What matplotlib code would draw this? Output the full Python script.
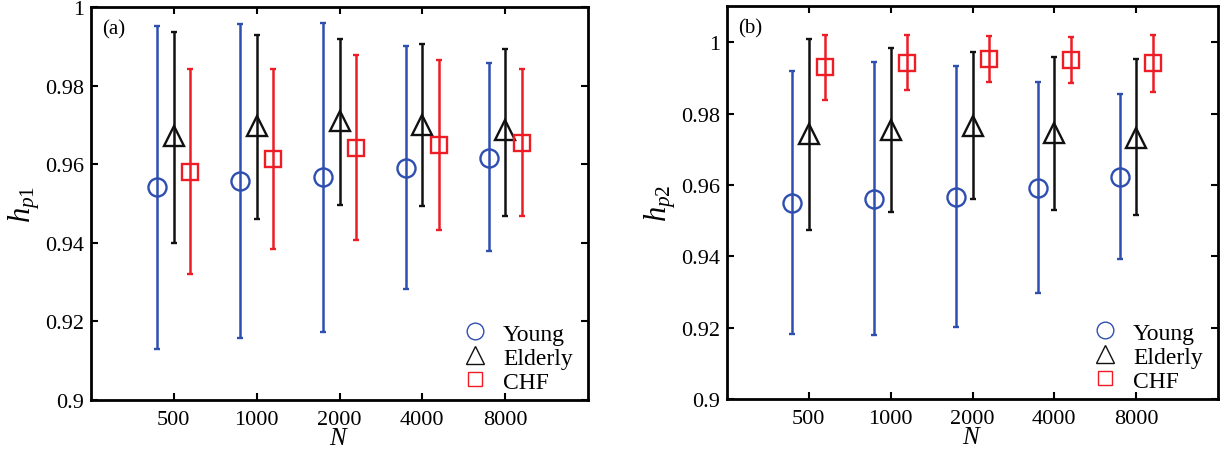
import numpy as np
import matplotlib
matplotlib.use("Agg")
import matplotlib.pyplot as plt
from matplotlib.lines import Line2D
from matplotlib.ticker import FormatStrFormatter

plt.rcParams['font.family'] = ['Liberation Serif', 'DejaVu Serif']
plt.rcParams['mathtext.fontset'] = 'custom'
plt.rcParams['mathtext.it'] = 'Liberation Serif:italic'
plt.rcParams['mathtext.rm'] = 'Liberation Serif'

N_labels = ["500", "1000", "2000", "4000", "8000"]
groups = ["Young", "Elderly", "CHF"]

# panel (a): h_p1  (mean, lower end, upper end)
young_a = [0.9541, 0.9558, 0.9567, 0.9590, 0.9617]
young_a_lo = [0.9130, 0.9157, 0.9174, 0.9283, 0.9380]
young_a_hi = [0.9951, 0.9958, 0.9959, 0.9900, 0.9857]
elderly_a = [0.9671, 0.9698, 0.9709, 0.9700, 0.9688]
elderly_a_lo = [0.9399, 0.9460, 0.9495, 0.9494, 0.9469]
elderly_a_hi = [0.9936, 0.9928, 0.9919, 0.9906, 0.9894]
chf_a = [0.9581, 0.9613, 0.9642, 0.9648, 0.9655]
chf_a_lo = [0.9320, 0.9384, 0.9407, 0.9433, 0.9469]
chf_a_hi = [0.9842, 0.9843, 0.9877, 0.9866, 0.9843]

# panel (b): h_p2
young_b = [0.9551, 0.9560, 0.9567, 0.9593, 0.9623]
young_b_lo = [0.9183, 0.9179, 0.9202, 0.9298, 0.9392]
young_b_hi = [0.9920, 0.9944, 0.9934, 0.9890, 0.9856]
elderly_b = [0.9742, 0.9753, 0.9766, 0.9745, 0.9733]
elderly_b_lo = [0.9475, 0.9524, 0.9562, 0.9531, 0.9515]
elderly_b_hi = [1.0009, 0.9983, 0.9973, 0.9960, 0.9954]
chf_b = [0.9930, 0.9942, 0.9953, 0.9950, 0.9941]
chf_b_lo = [0.9838, 0.9866, 0.9889, 0.9886, 0.9862]
chf_b_hi = [1.0022, 1.0021, 1.0018, 1.0015, 1.0022]

colors = ['#2f4fb0', '#111111', '#ee1c25']
markers = ['o', '^', 's']
msizes = [13, 14, 11]
offsets = [-0.2, 0.0, 0.2]

fig = plt.figure(figsize=(12.2, 4.52), dpi=100)
ax_a = fig.add_axes([91/1220, 1-401/452, (588-91)/1220, (401-8)/452])
ax_b = fig.add_axes([727/1220, 1-400/452, (1218-727)/1220, (400-7)/452])

panels = [
    (ax_a, [(young_a, young_a_lo, young_a_hi), (elderly_a, elderly_a_lo, elderly_a_hi),
            (chf_a, chf_a_lo, chf_a_hi)], (0.9, 1.0), r'$h_{p1}$', '(a)'),
    (ax_b, [(young_b, young_b_lo, young_b_hi), (elderly_b, elderly_b_lo, elderly_b_hi),
            (chf_b, chf_b_lo, chf_b_hi)], (0.9, 1.0102), r'$h_{p2}$', '(b)'),
]

x = np.arange(1, len(N_labels) + 1)
for ax, series, ylim, ylab, tag in panels:
    for i, (m, lo, hi) in enumerate(series):
        m = np.array(m)
        err = [m - np.array(lo), np.array(hi) - m]
        ax.errorbar(x + offsets[i], m, yerr=err, fmt=markers[i], color=colors[i],
                    mfc='none', mec=colors[i], ms=msizes[i], mew=1.7,
                    elinewidth=1.8, capsize=2.5, capthick=1.8)
    ax.set_xlim(0, 6)
    ax.set_ylim(*ylim)
    ax.set_xticks(x)
    ax.set_xticklabels(N_labels)
    ax.set_yticks(np.arange(0.9, 1.001, 0.02))
    ax.yaxis.set_major_formatter(FormatStrFormatter('%g'))
    ax.tick_params(direction='in', top=True, right=True, labelsize=16,
                   width=1.5, length=5)
    ax.tick_params(axis='x', pad=7)
    ax.tick_params(axis='y', pad=5)
    for s in ax.spines.values():
        s.set_linewidth(2)
    ax.set_xlabel(r'$N$', fontsize=18, labelpad=-1)
    ax.set_ylabel(ylab, fontsize=22, labelpad=2)
    ax.text(0.022, 0.945, tag, transform=ax.transAxes, fontsize=15,
            va='center', ha='left')
    handles = [Line2D([], [], ls='none', marker=markers[i], mfc='none',
                      mec=colors[i], ms=[12, 13, 10][i], mew=1.0)
               for i in range(3)]
    ax.legend(handles, groups, loc='lower right', frameon=False, fontsize=17,
              handlelength=1.6, handletextpad=0.4, labelspacing=0.1,
              bbox_to_anchor=(1.012, -0.035))

fig.savefig('out.png', dpi=100)
